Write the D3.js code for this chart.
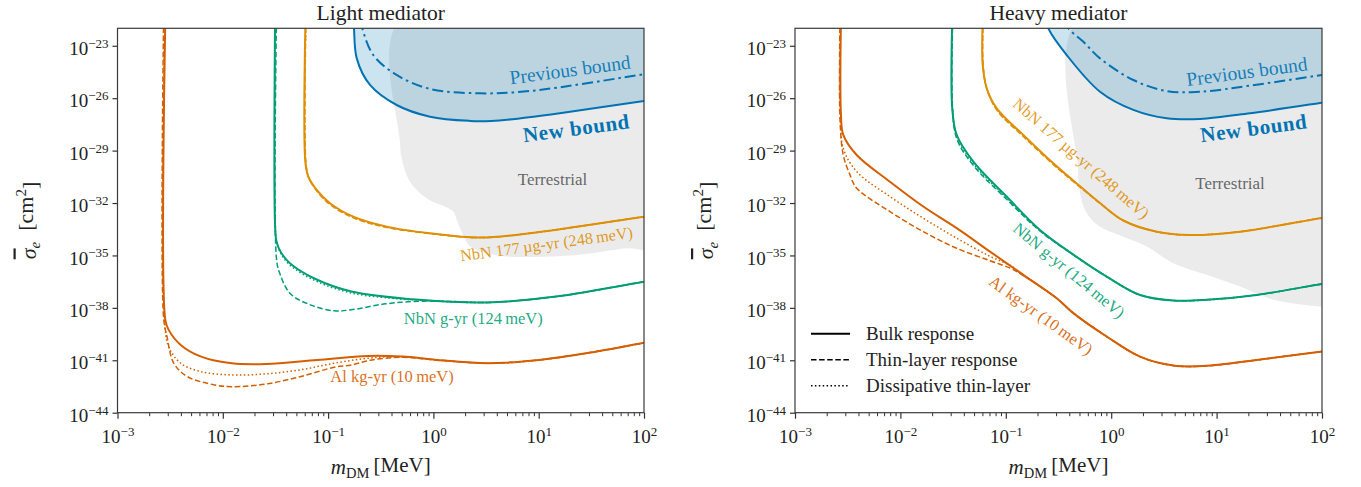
<!DOCTYPE html>
<html>
<head>
<meta charset="utf-8">
<script src="https://cdn.jsdelivr.net/npm/d3@7/dist/d3.min.js"></script>
<style>
  body { margin: 0; background: #fff; }
  svg text { font-family: "Liberation Serif", "DejaVu Serif", serif; fill: #222; }
</style>
</head>
<body>
<svg class="chart" width="1361" height="487"></svg>
<script>
// every point is [log10(m_DM / MeV), log10(sigma_e / cm^2)]
var massTickExps  = [-3, -2, -1, 0, 1, 2];
var sigmaTickExps = [-44, -41, -38, -35, -32, -29, -26, -23];

// ---- light mediator ----
var lightNewBound  = [[-0.76,-21.5],[-0.754,-22],[-0.728,-23.72],[-0.602,-25.24],[-0.349,-26.39],[-0.032,-27.06],[0.348,-27.30],[0.55,-27.30],[0.8,-27.17],[1.2,-26.86],[2.0,-26.16],[2.1,-26.07]];
var lightPrevBound = [[-0.69,-21.5],[-0.675,-22],[-0.571,-23.53],[-0.349,-24.67],[-0.032,-25.47],[0.443,-25.72],[0.917,-25.59],[2.0,-24.63],[2.1,-24.55]];
var lightTerrestrial = [[-0.317,-21.5],[-0.317,-28.49],[-0.301,-29.44],[-0.222,-30.78],[-0.064,-31.73],[0.189,-32.49],[0.221,-32.97],[0.284,-33.83],[0.348,-34.49],[0.537,-34.91],[0.727,-35.07],[1.36,-34.97],[1.836,-34.59],[2.1,-34.5],[2.1,-21.5]];

var lightNbN177Bulk = [[-1.215,-21.5],[-1.215,-29.72],[-1.188,-30.49],[-1.108,-31.25],[-0.982,-32.01],[-0.761,-32.78],[-0.443,-33.35],[-0.032,-33.73],[0.443,-33.98],[0.917,-33.73],[2.0,-32.78],[2.1,-32.7]];
var lightNbN177Thin = [[-1.21,-21.5],[-1.21,-29.72],[-1.18,-30.6],[-1.10,-31.37],[-0.975,-32.12],[-0.755,-32.86],[-0.44,-33.4],[-0.032,-33.75],[0.443,-33.98],[0.917,-33.73],[2.0,-32.78],[2.1,-32.7]];
var lightNbN177Diss = [[-1.212,-21.5],[-1.212,-29.72],[-1.184,-30.55],[-1.104,-31.31],[-0.978,-32.06],[-0.758,-32.82],[-0.44,-33.38],[-0.032,-33.74],[0.443,-33.98],[0.917,-33.73],[2.0,-32.78],[2.1,-32.7]];

var lightNbNgBulk = [[-1.504,-21.5],[-1.504,-33.2],[-1.49,-34.2],[-1.45,-34.8],[-1.363,-35.44],[-1.104,-36.39],[-0.780,-37.06],[-0.131,-37.54],[0.517,-37.69],[1.165,-37.35],[2.0,-36.5],[2.1,-36.4]];
var lightNbNgThin = [[-1.49,-21.5],[-1.49,-35.2],[-1.460,-36.01],[-1.363,-37.16],[-1.169,-37.83],[-0.942,-38.17],[-0.780,-38.11],[-0.455,-37.77],[-0.131,-37.62],[0.2,-37.64],[0.517,-37.69],[1.165,-37.35],[2.0,-36.5],[2.1,-36.4]];
var lightNbNgDiss = [[-1.502,-21.5],[-1.502,-33.2],[-1.488,-34.25],[-1.448,-34.9],[-1.363,-35.55],[-1.104,-36.5],[-0.780,-37.15],[-0.4,-37.45],[-0.131,-37.56],[0.517,-37.69],[1.165,-37.35],[2.0,-36.5],[2.1,-36.4]];

var lightAlBulk = [[-2.546,-21.5],[-2.546,-38.69],[-2.514,-39.26],[-2.400,-40.12],[-2.206,-40.79],[-1.914,-41.17],[-1.590,-41.21],[-1.104,-40.98],[-0.618,-40.75],[-0.293,-40.79],[0.031,-40.98],[0.517,-41.17],[1.003,-40.98],[1.489,-40.56],[2.0,-40.0],[2.1,-39.9]];
var lightAlThin = [[-2.562,-21.5],[-2.562,-38.6],[-2.530,-39.64],[-2.465,-41.17],[-2.335,-41.94],[-2.076,-42.41],[-1.914,-42.51],[-1.590,-42.36],[-1.266,-41.94],[-0.942,-41.40],[-0.780,-41.27],[-0.585,-40.98],[-0.293,-40.83],[0.031,-40.98],[0.517,-41.17],[1.003,-40.98],[1.489,-40.56],[2.0,-40.0],[2.1,-39.9]];
var lightAlDiss = [[-2.554,-21.5],[-2.554,-38.65],[-2.514,-40.22],[-2.400,-41.17],[-2.206,-41.65],[-1.914,-41.84],[-1.590,-41.78],[-1.266,-41.55],[-0.942,-41.17],[-0.618,-40.88],[-0.293,-40.80],[0.031,-40.98],[0.517,-41.17],[1.003,-40.98],[1.489,-40.56],[2.0,-40.0],[2.1,-39.9]];

// ---- heavy mediator ----
var heavyNewBound  = [[-0.62,-21.5],[-0.597,-22],[-0.422,-23.53],[-0.106,-25.63],[0.210,-26.67],[0.527,-27.15],[0.843,-27.19],[1.317,-26.86],[2.0,-26.26],[2.1,-26.17]];
var heavyPrevBound = [[-0.44,-21.5],[-0.407,-22],[-0.264,-22.77],[-0.106,-23.72],[0.210,-24.96],[0.527,-25.59],[0.843,-25.63],[1.317,-25.28],[2.0,-24.67],[2.1,-24.58]];
var heavyTerrestrial = [[-0.315,-21.5],[-0.315,-30.0],[-0.30,-31.3],[-0.24,-32.5],[-0.12,-33.3],[0.08,-33.85],[0.336,-34.49],[0.589,-35.44],[0.906,-36.11],[1.222,-36.78],[1.538,-37.54],[1.997,-37.93],[2.1,-37.95],[2.1,-21.5]];

var heavyNbN177Bulk = [[-1.219,-21.5],[-1.219,-24.1],[-1.181,-25.43],[-1.086,-26.58],[-0.834,-28.10],[-0.517,-29.9],[-0.264,-31.2],[-0.106,-32.0],[0.115,-33.0],[0.432,-33.64],[0.748,-33.83],[1.222,-33.64],[2.0,-32.85],[2.1,-32.78]];
var heavyNbN177Thin = [[-1.215,-21.5],[-1.215,-24.1],[-1.176,-25.55],[-1.08,-26.72],[-0.83,-28.22],[-0.515,-29.98],[-0.264,-31.25],[-0.106,-32.02],[0.115,-33.0],[0.432,-33.64],[0.748,-33.83],[1.222,-33.64],[2.0,-32.85],[2.1,-32.78]];
var heavyNbN177Diss = [[-1.217,-21.5],[-1.217,-24.1],[-1.178,-25.5],[-1.083,-26.66],[-0.832,-28.16],[-0.516,-29.94],[-0.264,-31.22],[-0.106,-32.01],[0.115,-33.0],[0.432,-33.64],[0.748,-33.83],[1.222,-33.64],[2.0,-32.85],[2.1,-32.78]];

var heavyNbNgBulk = [[-1.508,-21.5],[-1.508,-26.58],[-1.466,-28.1],[-1.308,-29.63],[-0.992,-31.63],[-0.676,-33.54],[-0.359,-34.95],[-0.043,-36.21],[0.273,-37.26],[0.589,-37.58],[0.906,-37.54],[1.380,-37.26],[2.0,-36.63],[2.1,-36.55]];
var heavyNbNgThin = [[-1.504,-21.5],[-1.504,-26.7],[-1.46,-28.4],[-1.30,-29.9],[-0.99,-31.8],[-0.676,-33.6],[-0.359,-34.97],[-0.043,-36.21],[0.273,-37.26],[0.589,-37.58],[0.906,-37.54],[1.380,-37.26],[2.0,-36.63],[2.1,-36.55]];
var heavyNbNgDiss = [[-1.506,-21.5],[-1.506,-26.64],[-1.463,-28.25],[-1.304,-29.77],[-0.991,-31.72],[-0.676,-33.57],[-0.359,-34.96],[-0.043,-36.21],[0.273,-37.26],[0.589,-37.58],[0.906,-37.54],[1.380,-37.26],[2.0,-36.63],[2.1,-36.55]];

var heavyAlBulk = [[-2.564,-21.5],[-2.564,-26.96],[-2.542,-28.1],[-2.415,-29.25],[-2.099,-30.78],[-1.783,-32.2],[-1.466,-33.44],[-1.150,-34.78],[-0.834,-36.11],[-0.517,-37.45],[-0.359,-38.30],[-0.043,-39.64],[0.273,-40.79],[0.589,-41.30],[0.906,-41.32],[1.380,-40.98],[2.0,-40.50],[2.1,-40.43]];
var heavyAlThin = [[-2.573,-21.5],[-2.573,-27.2],[-2.542,-29.25],[-2.478,-30.39],[-2.415,-31.15],[-2.099,-32.49],[-1.783,-33.64],[-1.466,-34.59],[-1.150,-35.3],[-0.95,-35.75],[-0.834,-36.15],[-0.517,-37.45],[-0.359,-38.30],[-0.043,-39.64],[0.273,-40.79],[0.589,-41.30],[0.906,-41.32],[1.380,-40.98],[2.0,-40.50],[2.1,-40.43]];
var heavyAlDiss = [[-2.568,-21.5],[-2.568,-27.1],[-2.542,-28.87],[-2.415,-30.2],[-2.099,-31.63],[-1.783,-32.87],[-1.466,-34.01],[-1.150,-35.05],[-0.95,-35.6],[-0.834,-36.13],[-0.517,-37.45],[-0.359,-38.30],[-0.043,-39.64],[0.273,-40.79],[0.589,-41.30],[0.906,-41.32],[1.380,-40.98],[2.0,-40.50],[2.1,-40.43]];

var legendLabels = ["Bulk response", "Thin-layer response", "Dissipative thin-layer"];

(function() {
  var blue = "#0173b2", orange = "#de8f05", green = "#029e73", red = "#d55e00";
  var dashes = {bulk: null, thin: "5.5,2.6", diss: "1.5,2.4"};

  var svg = d3.select(".chart");
  var top = 28.3, bottom = 412.7;

  var panels = [
    {
      id: "light", title: "Light mediator", left: 117.5, right: 644,
      terrestrial: lightTerrestrial, newBound: lightNewBound, prevBound: lightPrevBound,
      lines: [
        [lightNbN177Thin, orange, "thin"], [lightNbN177Diss, orange, "diss"], [lightNbN177Bulk, orange, "bulk"],
        [lightNbNgThin, green, "thin"], [lightNbNgDiss, green, "diss"], [lightNbNgBulk, green, "bulk"],
        [lightAlThin, red, "thin"], [lightAlDiss, red, "diss"], [lightAlBulk, red, "bulk"]
      ],
      labels: [
        {t: "Terrestrial", x: 1.131, y: -30.74, c: "#555", size: 17, rot: 0},
        {t: "Previous bound", x: 1.30, y: -24.5, c: blue, size: 19.5, rot: -7.5},
        {t: "New bound", x: 1.36, y: -27.85, c: blue, size: 21, rot: -7.5, bold: true},
        {t: "NbN 177\u2009\u00b5g-yr (248\u2009meV)", x: 1.076, y: -34.45, c: orange, size: 16.3, rot: -7.8},
        {t: "NbN g-yr (124\u2009meV)", x: 0.379, y: -38.69, c: green, size: 16.5, rot: 0},
        {t: "Al kg-yr (10\u2009meV)", x: -0.393, y: -42.01, c: red, size: 16.5, rot: 0}
      ],
      legend: false
    },
    {
      id: "heavy", title: "Heavy mediator", left: 795, right: 1322,
      terrestrial: heavyTerrestrial, newBound: heavyNewBound, prevBound: heavyPrevBound,
      lines: [
        [heavyNbN177Thin, orange, "thin"], [heavyNbN177Diss, orange, "diss"], [heavyNbN177Bulk, orange, "bulk"],
        [heavyNbNgThin, green, "thin"], [heavyNbNgDiss, green, "diss"], [heavyNbNgBulk, green, "bulk"],
        [heavyAlThin, red, "thin"], [heavyAlDiss, red, "diss"], [heavyAlBulk, red, "bulk"]
      ],
      labels: [
        {t: "Terrestrial", x: 1.127, y: -31.0, c: "#555", size: 17, rot: 0},
        {t: "Previous bound", x: 1.29, y: -24.6, c: blue, size: 19.5, rot: -7.5},
        {t: "New bound", x: 1.355, y: -27.85, c: blue, size: 21, rot: -7.5, bold: true},
        {t: "NbN 177\u2009\u00b5g-yr (248\u2009meV)", x: -0.296, y: -29.53, c: orange, size: 16.3, rot: 41},
        {t: "NbN g-yr (124\u2009meV)", x: -0.41, y: -35.93, c: green, size: 16.5, rot: 39.6},
        {t: "Al kg-yr (10\u2009meV)", x: -0.676, y: -38.5, c: red, size: 16.5, rot: 35.7}
      ],
      legend: true
    }
  ];

  panels.forEach(drawPanel);

  function drawPanel(p) {
    var width = p.right - p.left,
        height = bottom - top;

    var x = d3.scaleLog().domain([1e-3, 1e2]).range([0, width]);
    var y = d3.scaleLog().domain([1e-44, 1e-22]).range([height, 0]);
    var px = function(d) { return x(Math.pow(10, d[0])); };
    var py = function(d) { return y(Math.pow(10, d[1])); };

    var chart = svg.append("g")
      .attr("transform", "translate(" + p.left + "," + top + ")");

    chart.append("clipPath").attr("id", "clip-" + p.id)
      .append("rect").attr("width", width).attr("height", height);

    var plot = chart.append("g").attr("clip-path", "url(#clip-" + p.id + ")");

    var line = d3.line().x(px).y(py).curve(d3.curveCatmullRom.alpha(0.5));

    // terrestrial region
    plot.append("path")
      .datum(p.terrestrial)
      .attr("d", d3.line().x(px).y(py).curve(d3.curveCatmullRomClosed.alpha(0.5)))
      .attr("fill", "#ebebeb");

    // excluded region above the new bound
    plot.append("path")
      .datum(p.newBound)
      .attr("d", d3.area().x(px).y0(-50).y1(py).curve(d3.curveCatmullRom.alpha(0.5)))
      .attr("fill", blue)
      .attr("fill-opacity", 0.2);

    p.lines.forEach(function(l) {
      plot.append("path")
        .datum(l[0])
        .attr("d", line)
        .attr("fill", "none")
        .attr("stroke", l[1])
        .attr("stroke-width", l[2] === "bulk" ? 2 : 1.5)
        .attr("stroke-dasharray", dashes[l[2]]);
    });

    plot.append("path")
      .datum(p.prevBound)
      .attr("d", line)
      .attr("fill", "none")
      .attr("stroke", blue)
      .attr("stroke-width", 2)
      .attr("stroke-dasharray", "11,4,2.5,4");

    plot.append("path")
      .datum(p.newBound)
      .attr("d", line)
      .attr("fill", "none")
      .attr("stroke", blue)
      .attr("stroke-width", 2);

    // curve labels
    p.labels.forEach(function(lb) {
      chart.append("text")
        .attr("transform", "translate(" + x(Math.pow(10, lb.x)) + "," + y(Math.pow(10, lb.y)) + ") rotate(" + lb.rot + ")")
        .attr("text-anchor", "middle")
        .attr("dominant-baseline", "middle")
        .style("font-size", lb.size + "px")
        .style("font-weight", lb.bold ? "bold" : null)
        .style("letter-spacing", lb.bold ? "0.6px" : null)
        .style("fill", lb.c)
        .style("fill-opacity", lb.bold ? 1 : 0.9)
        .text(lb.t);
    });

    // axes
    var minor = x.ticks().filter(function(v) {
      return Math.abs(Math.log10(v) - Math.round(Math.log10(v))) > 1e-6;
    });

    chart.append("g")
      .attr("transform", "translate(0," + height + ")")
      .call(d3.axisBottom(x).tickValues(minor).tickSize(3.5).tickFormat(""))
      .call(function(g) { g.select(".domain").remove(); g.selectAll("line").attr("stroke", "#333"); });

    var xAxis = chart.append("g")
      .attr("transform", "translate(0," + height + ")")
      .call(d3.axisBottom(x)
        .tickValues(massTickExps.map(function(e) { return Math.pow(10, e); }))
        .tickSize(6).tickPadding(5));
    xAxis.select(".domain").remove();
    xAxis.selectAll("line").attr("stroke", "#333").attr("stroke-width", 1.2);
    xAxis.selectAll(".tick text").each(function(d) { powerLabel(d3.select(this), d); })
      .attr("dy", "1.0em");

    var yAxis = chart.append("g")
      .call(d3.axisLeft(y)
        .tickValues(sigmaTickExps.map(function(e) { return Math.pow(10, e); }))
        .tickSize(5).tickPadding(4));
    yAxis.select(".domain").remove();
    yAxis.selectAll("line").attr("stroke", "#333").attr("stroke-width", 1.2);
    yAxis.selectAll(".tick text").each(function(d) { powerLabel(d3.select(this), d); })
      .attr("dy", "0.45em");

    // frame
    chart.append("rect")
      .attr("width", width).attr("height", height)
      .attr("fill", "none")
      .attr("stroke", "#3a3a3a")
      .attr("stroke-width", 1.2);

    // title
    chart.append("text")
      .attr("x", width / 2).attr("y", -8)
      .attr("text-anchor", "middle")
      .style("font-size", "21.5px")
      .text(p.title);

    // x label
    var xl = chart.append("text")
      .attr("x", width / 2).attr("y", height + 61)
      .attr("text-anchor", "middle")
      .style("font-size", "21px");
    xl.append("tspan").style("font-style", "italic").text("m");
    xl.append("tspan").attr("dy", "0.3em").style("font-size", "14.5px").text("DM");
    xl.append("tspan").attr("dy", "-0.3em").text("\u2009[MeV]");

    // y label
    var yl = chart.append("text")
      .attr("transform", "translate(-82," + (height / 2) + ") rotate(-90)")
      .attr("text-anchor", "middle")
      .style("font-size", "22px");
    yl.append("tspan").style("font-style", "italic").style("text-decoration", "overline").text("\u03c3");
    yl.append("tspan").attr("dy", "0.3em").style("font-style", "italic").style("font-size", "15px").text("e");
    yl.append("tspan").attr("dy", "-0.3em").text("\u2002[cm");
    yl.append("tspan").attr("dy", "-0.5em").style("font-size", "15px").text("2");
    yl.append("tspan").attr("dy", "0.5em").text("]");

    if (p.legend) {
      var legend = chart.append("g").attr("transform", "translate(16," + (height - 79) + ")");
      ["bulk", "thin", "diss"].forEach(function(k, i) {
        var row = legend.append("g").attr("transform", "translate(0," + (i * 26) + ")");
        row.append("line")
          .attr("x1", 0).attr("x2", 39)
          .attr("stroke", "#000")
          .attr("stroke-width", k === "bulk" ? 2 : 1.5)
          .attr("stroke-dasharray", dashes[k]);
        row.append("text")
          .attr("x", 55).attr("dy", "0.35em")
          .style("font-size", "19px")
          .text(legendLabels[i]);
      });
    }
  }

  function powerLabel(t, v) {
    var e = Math.round(Math.log10(v));
    t.text(null).style("font-size", "19px").attr("fill", "#222");
    t.append("tspan").text("10");
    t.append("tspan")
      .attr("dy", "-0.55em")
      .style("font-size", "13px")
      .text(e < 0 ? "\u2212" + (-e) : e);
  }
})();
</script>
</body>
</html>
